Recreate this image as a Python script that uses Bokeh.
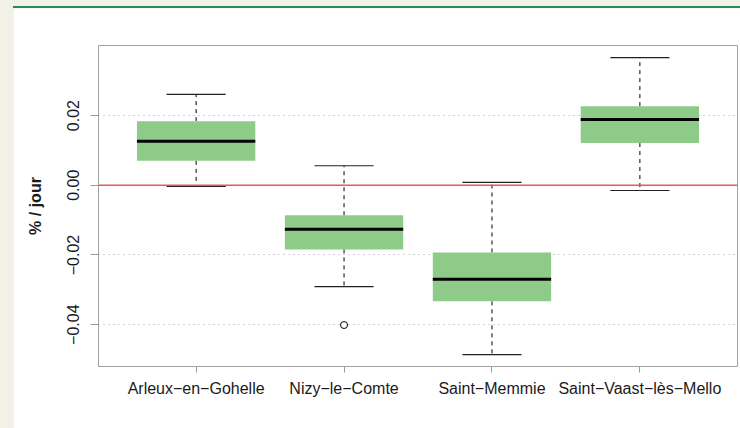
from bokeh.plotting import figure
from bokeh.models import FixedTicker, Span, CustomJSTickFormatter, Div, Spacer, ColumnDataSource
from bokeh.layouts import column
from bokeh.embed import file_html
from bokeh.resources import INLINE

# ---- data ----
sites = ["Arleux\u2212en\u2212Gohelle", "Nizy\u2212le\u2212Comte", "Saint\u2212Memmie", "Saint\u2212Vaast\u2212lès\u2212Mello"]
lower = [-0.0003, -0.0291, -0.0486, -0.0015]
q1 = [0.0070, -0.0184, -0.0333, 0.0121]
median = [0.0126, -0.0126, -0.0270, 0.0189]
q3 = [0.0184, -0.0086, -0.0193, 0.0227]
upper = [0.0261, 0.0056, 0.0008, 0.0366]
outlier_site = [2]
outlier_value = [-0.0401]
yticks = [-0.04, -0.02, 0.00, 0.02]
y_label = "% / jour"

FONT = "Liberation Sans"
GREEN = "#8ecb89"
BEIGE = "#f1f1e5"
TEAL = "#2a8468"

xs = list(range(1, len(sites) + 1))
src = ColumnDataSource(dict(
    x=xs, lower=lower, q1=q1, med=median, q3=q3, upper=upper,
    x0=[x - 0.4 for x in xs], x1=[x + 0.4 for x in xs],
    c0=[x - 0.2 for x in xs], c1=[x + 0.2 for x in xs],
))

p = figure(width=727, height=420, output_backend="svg", toolbar_location=None,
           x_range=(0.34, 4.66), y_range=(-0.0520, 0.0401),
           min_border_left=85, min_border_right=3, min_border_top=37, min_border_bottom=62,
           margin=(0, 0, 0, 13))
p.background_fill_color = "white"
p.border_fill_color = "white"
p.outline_line_color = "#a0a0a0"
p.outline_line_width = 1

# grid
p.xgrid.visible = False
p.ygrid.ticker = FixedTicker(ticks=yticks)
p.ygrid.grid_line_color = "#a8a8a8"
p.ygrid.grid_line_dash = "1 4"
p.ygrid.grid_line_width = 1

# whiskers
p.segment(x0="x", y0="q3", x1="x", y1="upper", source=src, line_color="black", line_width=1, line_dash="4 4")
p.segment(x0="x", y0="q1", x1="x", y1="lower", source=src, line_color="black", line_width=1, line_dash="4 4")
p.segment(x0="c0", y0="upper", x1="c1", y1="upper", source=src, line_color="#222222", line_width=1.2)
p.segment(x0="c0", y0="lower", x1="c1", y1="lower", source=src, line_color="#222222", line_width=1.2)

# boxes
p.vbar(x="x", width=0.8, bottom="q1", top="q3", source=src, fill_color=GREEN, line_color=None)
p.segment(x0="x0", y0="med", x1="x1", y1="med", source=src, line_color="black", line_width=3, line_cap="butt")

# outlier
p.scatter(x=outlier_site, y=outlier_value, marker="circle", size=7, fill_color="white",
          line_color="black", line_width=1)

# zero line
p.add_layout(Span(location=0, dimension="width", line_color="#e8595e", line_width=1.5))

# axes
p.xaxis.ticker = FixedTicker(ticks=xs)
p.xaxis.major_label_overrides = {x: s for x, s in zip(xs, sites)}
p.yaxis.ticker = FixedTicker(ticks=yticks)
p.yaxis.formatter = CustomJSTickFormatter(code="return (tick < -1e-9 ? '\u2212' : '') + Math.abs(tick).toFixed(2);")
p.yaxis.major_label_orientation = "vertical"
p.yaxis.axis_label = y_label
p.yaxis.axis_label_text_font_style = "bold"
for ax in (p.xaxis[0], p.yaxis[0]):
    ax.axis_line_color = None
    ax.major_tick_line_color = "#999999"
    ax.major_tick_in = 0
    ax.minor_tick_line_color = None
    ax.major_label_text_font = FONT
    ax.major_label_text_font_size = "16px"
    ax.major_label_text_color = "#1a1a1a"
    ax.axis_label_text_font = FONT
    ax.axis_label_text_font_size = "16px"
    ax.axis_label_text_color = "#1a1a1a"
p.xaxis.major_tick_out = 6
p.xaxis.major_label_standoff = 7
p.yaxis.major_tick_out = 8
p.yaxis.major_label_standoff = 11
p.yaxis.axis_label_standoff = 21

top_pad = Spacer(width=740, height=6)
rule = Div(text="", width=727, height=2, margin=(0, 0, 0, 13), styles={"background-color": TEAL})
root = column(top_pad, rule, p, width=740, height=428, spacing=0, styles={"background-color": BEIGE})

open("out.html", "w").write(file_html(root, INLINE))
